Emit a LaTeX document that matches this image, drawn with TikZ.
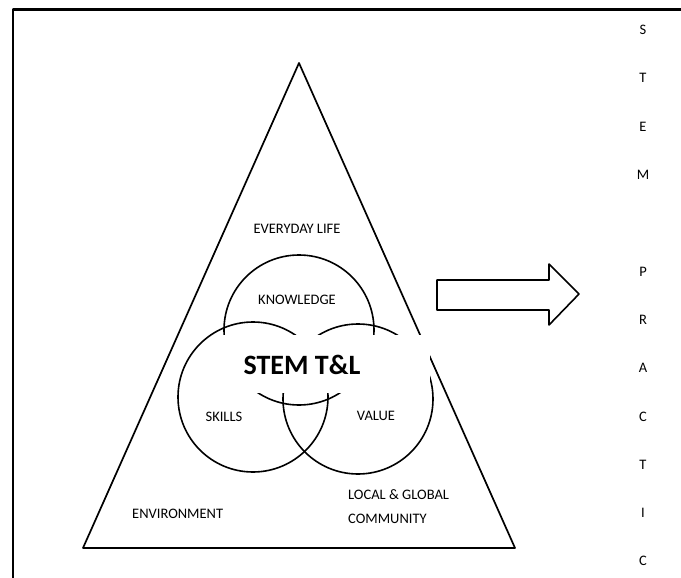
\documentclass[tikz,border=0pt]{standalone}
\usepackage{fontspec}
\setmainfont{Carlito}
\usetikzlibrary{positioning,calc}
\newcommand*{\sml}{\fontsize{14.5}{17}\selectfont}
\newcommand*{\corefont}{\bfseries\fontsize{28}{32}\selectfont}

\begin{document}
\begin{tikzpicture}[x=1pt,y=-1pt,line join=round,
  lbl/.style={font=\sml,inner sep=0pt},
  ring/.style={line width=1.6pt}]
\useasboundingbox (0,0) rectangle (681,578);
% Frame of the page, cut off at right and bottom
\draw[line width=2.8pt] (13,578) -- (13,9.5) -- (681,9.5);
% Triangle
\draw[line width=1.7pt] (299,63) coordinate (apex) -- (515,548) coordinate (br)
  -- (83,548) coordinate (bl) -- cycle;
% Three circles of the core
\coordinate (know) at (299,330);
\coordinate (skil) at (253,397);
\coordinate (valu) at (358,399);
\foreach \c in {know,skil,valu}
  \draw[ring] (\c) circle[radius=75pt];
% White box behind the core label hides the middle
\node[fill=white,minimum width=214pt,minimum height=58pt,inner sep=0pt]
  (corebox) at (323,364) {};
\node[font=\corefont,inner sep=0pt] (core) at (302,365) {STEM T\&L};
% Labels in the triangle
\node[lbl] (life) at (297,229) {EVERYDAY LIFE};
\node[lbl] (knowl) at (297,300) {KNOWLEDGE};
\node[lbl] (skills) at (224,417) {SKILLS};
\node[lbl] (value) at (376,416) {VALUE};
\node[lbl,anchor=west] (envir) at (132,514) {ENVIRONMENT};
\node[lbl,anchor=west,align=left,font=\fontsize{14.5}{24}\selectfont]
  (commu) at (348,507) {LOCAL \& GLOBAL\\COMMUNITY};
% Block arrow
\draw[line width=1.6pt] (437,280) coordinate (tail) -- (549,280) -- (549,264)
  -- (579,294) coordinate (tip) -- (549,325) -- (549,310) -- (437,310) -- cycle;
% STEM PRACTIC down the right side
\foreach \ch/\k in {S/0,T/1,E/2,M/3,P/5,R/6,A/7,C/8,T/9,I/10,C/11}
  \node[lbl] (col\k) at (643,30+48.3*\k) {\ch};
\end{tikzpicture}
\end{document}
